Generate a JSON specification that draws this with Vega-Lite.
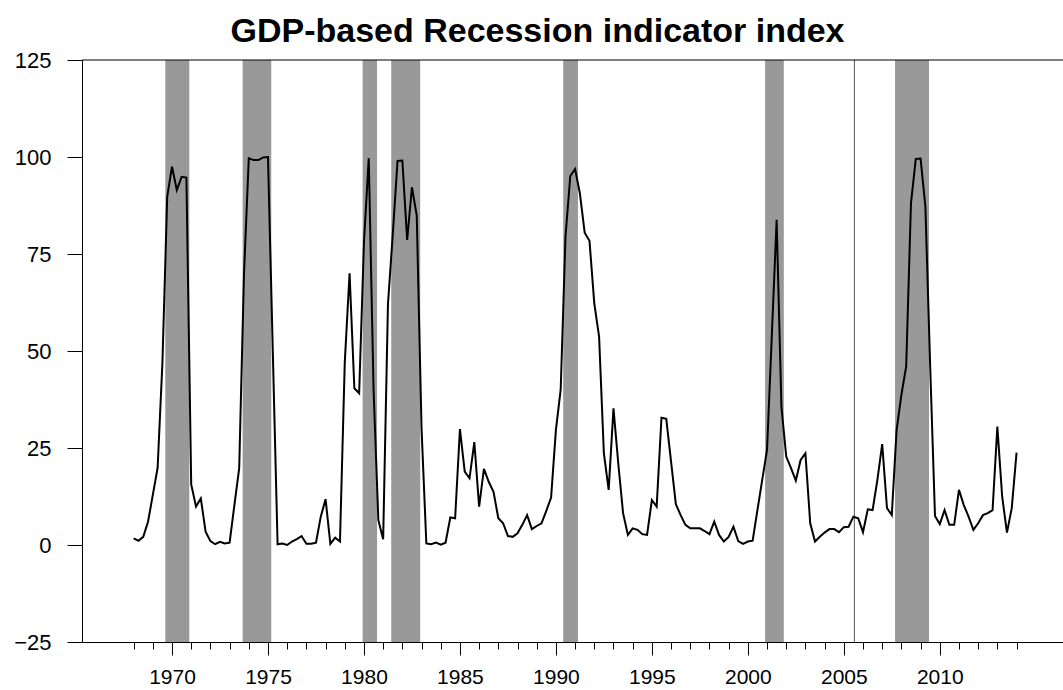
{
  "$schema": "https://vega.github.io/schema/vega-lite/v6.json",
  "width": 981,
  "height": 582,
  "autosize": {"type": "none"},
  "padding": {"left": 82, "top": 60, "right": 0, "bottom": 48},
  "background": "white",
  "title": {"text": "GDP-based Recession indicator index", "font": "Liberation Sans", "fontSize": 34, "fontWeight": "bold", "color": "black", "anchor": "middle", "dx": -35, "dy": 49, "offset": 15, "baseline": "bottom"},
  "config": {"view": {"stroke": null}, "axis": {"labelFont": "Liberation Sans", "labelColor": "black", "domainColor": "black", "tickColor": "black", "grid": false, "title": null}},
  "datasets": {
    "recessions": [
      {"start": 1969.65, "end": 1970.9},
      {"start": 1973.68, "end": 1975.17},
      {"start": 1979.93, "end": 1980.68},
      {"start": 1981.42, "end": 1982.93},
      {"start": 1990.38, "end": 1991.15},
      {"start": 2000.9, "end": 2001.875},
      {"start": 2007.67, "end": 2009.44}
    ],
    "marker": [{"t": 2005.55}],
    "frame": [{"y": 125}],
    "index": [
      {"t":1968.00,"v":1.7},{"t":1968.25,"v":1.1},{"t":1968.50,"v":2.1},{"t":1968.75,"v":6.0},
      {"t":1969.00,"v":12.9},{"t":1969.25,"v":19.9},{"t":1969.50,"v":47},{"t":1969.75,"v":89.8},
      {"t":1970.00,"v":97.5},{"t":1970.25,"v":91.5},{"t":1970.50,"v":94.9},{"t":1970.75,"v":94.7},
      {"t":1971.00,"v":15.6},{"t":1971.25,"v":9.9},{"t":1971.50,"v":12.0},{"t":1971.75,"v":3.4},
      {"t":1972.00,"v":1.0},{"t":1972.25,"v":0.2},{"t":1972.50,"v":0.8},{"t":1972.75,"v":0.4},
      {"t":1973.00,"v":0.6},{"t":1973.25,"v":10.3},{"t":1973.50,"v":19.8},{"t":1973.75,"v":70},
      {"t":1974.00,"v":99.7},{"t":1974.25,"v":99.2},{"t":1974.50,"v":99.2},{"t":1974.75,"v":99.9},
      {"t":1975.00,"v":100},{"t":1975.25,"v":50},{"t":1975.50,"v":0.2},{"t":1975.75,"v":0.4},
      {"t":1976.00,"v":0.0},{"t":1976.25,"v":0.9},{"t":1976.50,"v":1.5},{"t":1976.75,"v":2.3},
      {"t":1977.00,"v":0.3},{"t":1977.25,"v":0.3},{"t":1977.50,"v":0.6},{"t":1977.75,"v":7.3},
      {"t":1978.00,"v":11.8},{"t":1978.25,"v":0.3},{"t":1978.50,"v":1.9},{"t":1978.75,"v":0.9},
      {"t":1979.00,"v":47},{"t":1979.25,"v":70.0},{"t":1979.50,"v":40.4},{"t":1979.75,"v":39.1},
      {"t":1980.00,"v":78},{"t":1980.25,"v":99.7},{"t":1980.50,"v":40},{"t":1980.75,"v":6.4},
      {"t":1981.00,"v":1.5},{"t":1981.25,"v":62},{"t":1981.50,"v":80},{"t":1981.75,"v":99.0},
      {"t":1982.00,"v":99.1},{"t":1982.25,"v":78.6},{"t":1982.50,"v":92.2},{"t":1982.75,"v":84.9},
      {"t":1983.00,"v":30},{"t":1983.25,"v":0.4},{"t":1983.50,"v":0.2},{"t":1983.75,"v":0.6},
      {"t":1984.00,"v":0.1},{"t":1984.25,"v":0.6},{"t":1984.50,"v":7.1},{"t":1984.75,"v":6.9},
      {"t":1985.00,"v":29.9},{"t":1985.25,"v":18.9},{"t":1985.50,"v":17.2},{"t":1985.75,"v":26.5},
      {"t":1986.00,"v":9.9},{"t":1986.25,"v":19.6},{"t":1986.50,"v":16.3},{"t":1986.75,"v":13.7},
      {"t":1987.00,"v":6.9},{"t":1987.25,"v":5.6},{"t":1987.50,"v":2.3},{"t":1987.75,"v":2.1},
      {"t":1988.00,"v":3.0},{"t":1988.25,"v":5.2},{"t":1988.50,"v":7.7},{"t":1988.75,"v":4.1},
      {"t":1989.00,"v":4.9},{"t":1989.25,"v":5.6},{"t":1989.50,"v":8.8},{"t":1989.75,"v":12.2},
      {"t":1990.00,"v":29.6},{"t":1990.25,"v":40.1},{"t":1990.50,"v":79.5},{"t":1990.75,"v":95.1},
      {"t":1991.00,"v":96.9},{"t":1991.25,"v":90.6},{"t":1991.50,"v":80.5},{"t":1991.75,"v":78.4},
      {"t":1992.00,"v":62.3},{"t":1992.25,"v":53.7},{"t":1992.50,"v":23.6},{"t":1992.75,"v":14.2},
      {"t":1993.00,"v":35.2},{"t":1993.25,"v":21.0},{"t":1993.50,"v":8.2},{"t":1993.75,"v":2.6},
      {"t":1994.00,"v":4.3},{"t":1994.25,"v":3.9},{"t":1994.50,"v":2.8},{"t":1994.75,"v":2.6},
      {"t":1995.00,"v":11.6},{"t":1995.25,"v":9.9},{"t":1995.50,"v":32.8},{"t":1995.75,"v":32.5},
      {"t":1996.00,"v":21.5},{"t":1996.25,"v":10.5},{"t":1996.50,"v":7.7},{"t":1996.75,"v":5.2},
      {"t":1997.00,"v":4.3},{"t":1997.25,"v":4.3},{"t":1997.50,"v":4.3},{"t":1997.75,"v":3.6},
      {"t":1998.00,"v":2.8},{"t":1998.25,"v":6.0},{"t":1998.50,"v":2.6},{"t":1998.75,"v":0.9},
      {"t":1999.00,"v":2.1},{"t":1999.25,"v":4.7},{"t":1999.50,"v":1.0},{"t":1999.75,"v":0.3},
      {"t":2000.00,"v":0.9},{"t":2000.25,"v":1.1},{"t":2000.50,"v":9.0},{"t":2000.75,"v":16.8},
      {"t":2001.00,"v":24.5},{"t":2001.25,"v":54},{"t":2001.50,"v":83.8},{"t":2001.75,"v":35.6},
      {"t":2002.00,"v":22.8},{"t":2002.25,"v":19.8},{"t":2002.50,"v":16.6},{"t":2002.75,"v":21.9},
      {"t":2003.00,"v":23.6},{"t":2003.25,"v":5.6},{"t":2003.50,"v":0.9},{"t":2003.75,"v":2.1},
      {"t":2004.00,"v":3.2},{"t":2004.25,"v":4.1},{"t":2004.50,"v":4.1},{"t":2004.75,"v":3.3},
      {"t":2005.00,"v":4.6},{"t":2005.25,"v":4.7},{"t":2005.50,"v":7.3},{"t":2005.75,"v":6.9},
      {"t":2006.00,"v":3.3},{"t":2006.25,"v":9.2},{"t":2006.50,"v":9.0},{"t":2006.75,"v":16.8},
      {"t":2007.00,"v":26.0},{"t":2007.25,"v":9.5},{"t":2007.50,"v":7.7},{"t":2007.75,"v":29.6},
      {"t":2008.00,"v":38.7},{"t":2008.25,"v":46.0},{"t":2008.50,"v":88.1},{"t":2008.75,"v":99.5},
      {"t":2009.00,"v":99.6},{"t":2009.25,"v":87.2},{"t":2009.50,"v":46},{"t":2009.75,"v":7.5},
      {"t":2010.00,"v":5.4},{"t":2010.25,"v":9.0},{"t":2010.50,"v":5.2},{"t":2010.75,"v":5.2},
      {"t":2011.00,"v":14.2},{"t":2011.25,"v":10.3},{"t":2011.50,"v":7.3},{"t":2011.75,"v":3.9},
      {"t":2012.00,"v":5.6},{"t":2012.25,"v":7.7},{"t":2012.50,"v":8.2},{"t":2012.75,"v":9.0},
      {"t":2013.00,"v":30.5},{"t":2013.25,"v":12.5},{"t":2013.50,"v":3.2},{"t":2013.75,"v":9.5},
      {"t":2014.00,"v":23.8}
    ]
  },
  "layer": [
    {
      "data": {"name": "recessions"},
      "mark": {"type": "rect", "color": "#999999"},
      "encoding": {
        "x": {"field": "start", "type": "quantitative", "scale": {"domain": [1965.31, 2016.42], "nice": false, "zero": false},
              "axis": {"orient": "bottom", "values": [1968,1969,1970,1971,1972,1973,1974,1975,1976,1977,1978,1979,1980,1981,1982,1983,1984,1985,1986,1987,1988,1989,1990,1991,1992,1993,1994,1995,1996,1997,1998,1999,2000,2001,2002,2003,2004,2005,2006,2007,2008,2009,2010,2011,2012,2013,2014], "labels": false, "tickSize": 7, "domain": true, "title": null}},
        "x2": {"field": "end"}
      }
    },
    {
      "data": {"name": "marker"},
      "mark": {"type": "rule", "color": "#555555", "strokeWidth": 1},
      "encoding": {
        "x": {"field": "t", "type": "quantitative", "axis": null}
      }
    },
    {
      "data": {"name": "frame"},
      "mark": {"type": "rule", "color": "black", "strokeWidth": 1},
      "encoding": {
        "y": {"field": "y", "type": "quantitative", "scale": {"domain": [-25, 125], "nice": false, "zero": false},
              "axis": {"values": [-25,0,25,50,75,100,125], "tickSize": 15, "labelFontSize": 22, "labelPadding": 16, "domain": true, "title": null}}
      }
    },
    {
      "data": {"name": "index"},
      "mark": {"type": "line", "color": "black", "strokeWidth": 2},
      "encoding": {
        "x": {"field": "t", "type": "quantitative", "axis": {"orient": "bottom", "values": [1970,1975,1980,1985,1990,1995,2000,2005,2010], "tickSize": 13, "labelFontSize": 21, "labelPadding": 11, "domain": false, "format": "d", "title": null}},
        "y": {"field": "v", "type": "quantitative", "scale": {"domain": [-25, 125], "nice": false, "zero": false},
              "axis": {"values": [-25,0,25,50,75,100,125], "tickSize": 15, "labelFontSize": 22, "labelPadding": 16, "domain": true, "title": null}}
      }
    }
  ],
  "resolve": {"axis": {"x": "independent"}}
}
